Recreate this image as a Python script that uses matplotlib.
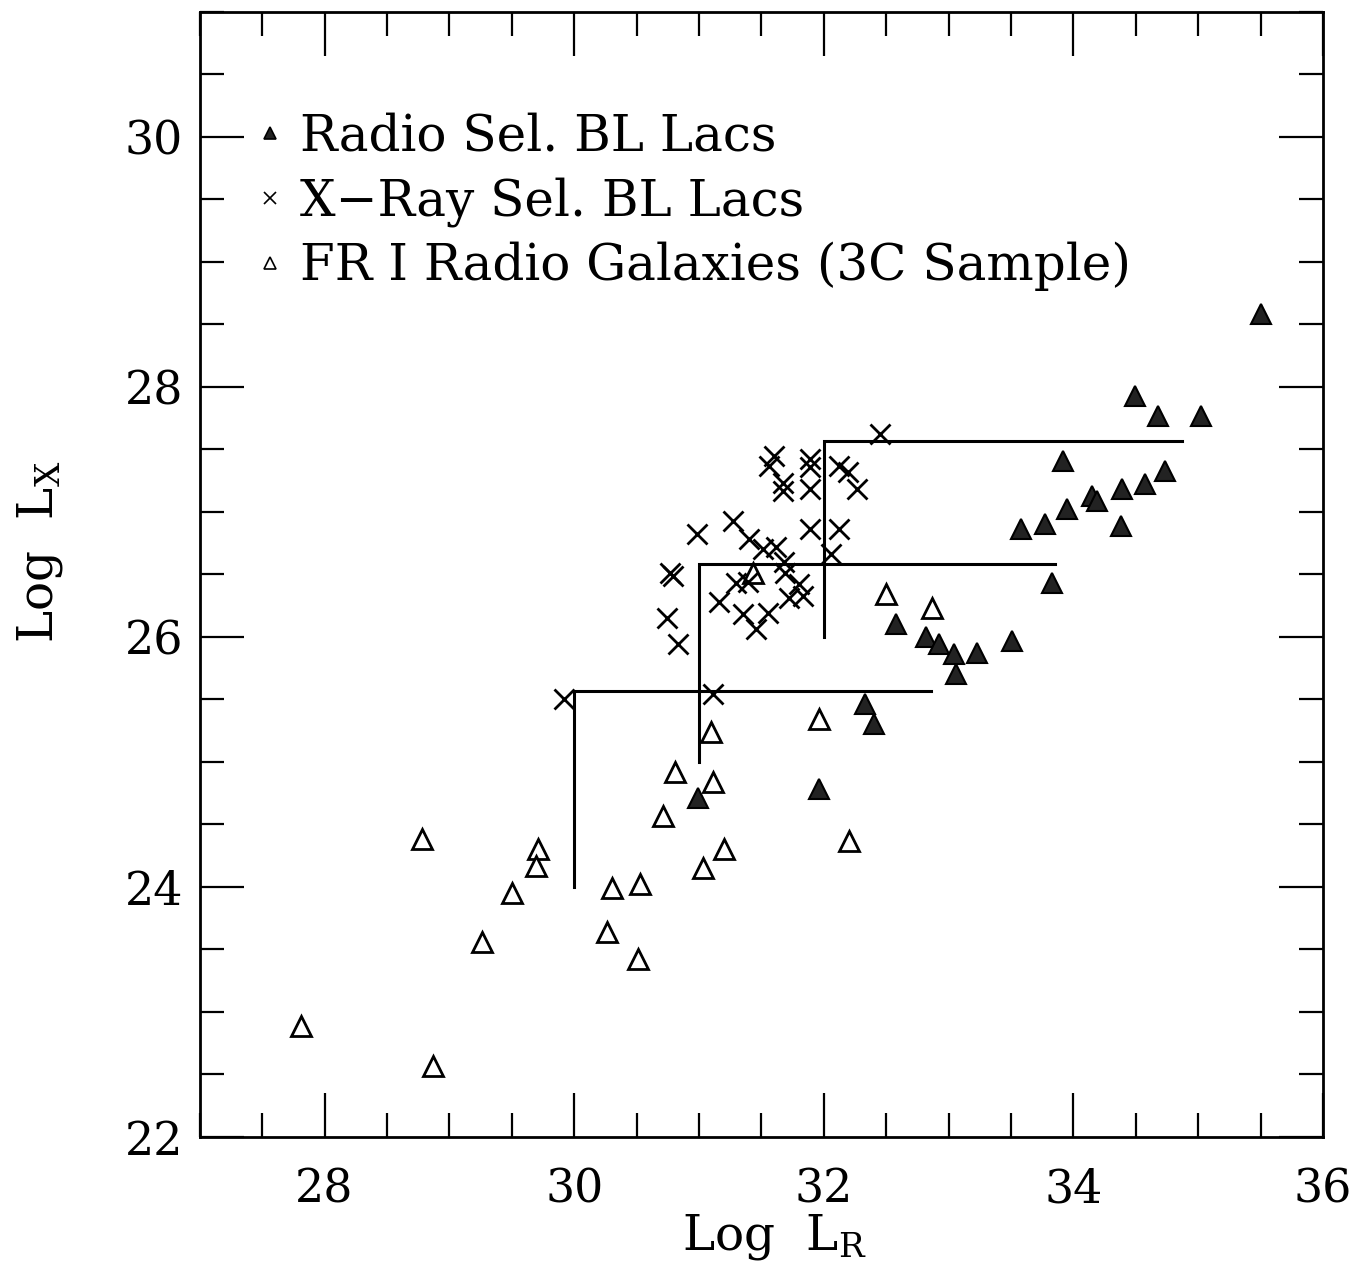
import matplotlib
matplotlib.use("Agg")
import matplotlib.pyplot as plt
from matplotlib.lines import Line2D
from matplotlib.ticker import MultipleLocator

plt.rcParams['font.family'] = ['DejaVu Serif']
plt.rcParams['mathtext.fontset'] = 'dejavuserif'

# Radio selected BL Lacs (filled triangles)
radio_lr = [30.99, 31.96, 32.33, 32.40, 32.58, 32.82, 32.92, 33.04, 33.06, 33.23,
            33.51, 33.58, 33.77, 33.83, 33.92, 33.95, 34.15, 34.19, 34.38, 34.39,
            34.57, 34.73, 34.49, 34.68, 35.02, 35.50]
radio_lx = [24.71, 24.78, 25.46, 25.30, 26.10, 26.00, 25.94, 25.86, 25.70, 25.87,
            25.97, 26.86, 26.90, 26.43, 27.41, 27.02, 27.13, 27.09, 26.89, 27.18,
            27.22, 27.33, 27.93, 27.77, 27.77, 28.58]

# X-ray selected BL Lacs (crosses)
xray_lr = [29.92, 31.11, 30.74, 30.83, 30.77, 30.79, 30.98, 31.27, 31.40, 31.51,
           31.62, 31.68, 31.69, 31.80, 31.72, 31.83, 31.30, 31.39, 31.16, 31.35,
           31.46, 31.55, 31.89, 32.12, 32.06, 31.60, 31.56, 31.67, 31.67, 31.89,
           31.89, 31.89, 32.12, 32.19, 32.27, 32.45]
xray_lx = [25.50, 25.54, 26.15, 25.94, 26.51, 26.49, 26.82, 26.93, 26.78, 26.70,
           26.72, 26.60, 26.51, 26.42, 26.31, 26.33, 26.43, 26.44, 26.28, 26.18,
           26.06, 26.19, 26.86, 26.86, 26.66, 27.45, 27.37, 27.23, 27.17, 27.42,
           27.36, 27.18, 27.37, 27.32, 27.18, 27.62]

# FR I radio galaxies, 3C sample (open triangles)
fr1_lr = [27.81, 28.87, 28.78, 29.26, 29.50, 29.71, 29.69, 30.26, 30.30, 30.51,
          30.53, 30.71, 30.81, 31.03, 31.11, 31.10, 31.20, 31.96, 32.20, 32.50,
          32.87, 31.43]
fr1_lx = [22.89, 22.57, 24.38, 23.56, 23.95, 24.30, 24.17, 23.64, 23.99, 23.42,
          24.02, 24.57, 24.92, 24.15, 24.84, 25.24, 24.30, 25.34, 24.37, 26.34,
          26.23, 26.51]

# step-shaped limit lines: corner x, bottom of vertical, level, right end
step_x0 = [30.0, 31.0, 32.0]
step_y0 = [24.0, 25.0, 26.0]
step_y1 = [25.57, 26.58, 27.57]
step_x1 = [32.86, 33.85, 34.87]

labels = ['Radio Sel. BL Lacs', 'X\u2212Ray Sel. BL Lacs', 'FR I Radio Galaxies (3C Sample)']

fig = plt.figure(figsize=(13.5, 12.63), dpi=100)
ax = fig.add_axes([0.148, 0.0998, 0.832, 0.8907])

for i in range(len(step_x0)):
    ax.plot([step_x0[i], step_x0[i], step_x1[i]], [step_y0[i], step_y1[i], step_y1[i]],
            color='black', lw=2.2, solid_joinstyle='miter')

ax.plot(fr1_lr, fr1_lx, linestyle='none', marker='^', ms=14, mfc='white',
        mec='black', mew=2.0)
ax.plot(xray_lr, xray_lx, linestyle='none', marker='x', ms=15, mec='black', mew=2.0)
ax.plot(radio_lr, radio_lx, linestyle='none', marker='^', ms=14, mfc='#222222',
        mec='black', mew=1.5)

ax.set_xlim(27.0, 36.0)
ax.set_ylim(22.0, 31.0)
ax.xaxis.set_major_locator(MultipleLocator(2))
ax.xaxis.set_minor_locator(MultipleLocator(0.5))
ax.yaxis.set_major_locator(MultipleLocator(2))
ax.yaxis.set_minor_locator(MultipleLocator(0.5))
ax.tick_params(which='both', direction='in', top=True, right=True, width=1.6,
               labelsize=33)
ax.tick_params(which='major', length=32)
ax.tick_params(which='minor', length=17)
ax.tick_params(axis='x', which='major', pad=22)
ax.tick_params(axis='y', which='major', pad=12)
for s in ax.spines.values():
    s.set_linewidth(2.0)

ax.set_xlabel('Log  L$_{\\mathrm{R}}$', fontsize=35)
ax.set_ylabel('Log  L$_{\\mathrm{X}}$', fontsize=35)
ax.xaxis.set_label_coords(0.512, -0.067)
ax.yaxis.set_label_coords(-0.12, 0.52)

handles = [
    Line2D([], [], linestyle='none', marker='^', ms=8, mfc='#222222', mec='black', mew=1.2),
    Line2D([], [], linestyle='none', marker='x', ms=8, mec='black', mew=1.2),
    Line2D([], [], linestyle='none', marker='^', ms=8, mfc='white', mec='black', mew=1.2),
]
ax.legend(handles, labels, loc='upper left', bbox_to_anchor=(0.049, 0.9107),
          frameon=False, fontsize=36, handlelength=0.6, handletextpad=0.3,
          labelspacing=0.3, borderpad=0, borderaxespad=0)

fig.savefig('out.png', dpi=100)
